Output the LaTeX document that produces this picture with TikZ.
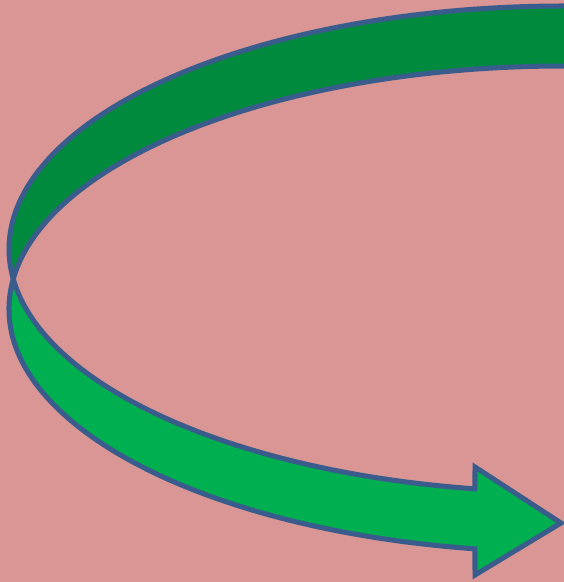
\documentclass[tikz,border=0pt]{standalone}
\definecolor{bgpink}{HTML}{D99694}
\definecolor{darkgr}{HTML}{008A3E}
\definecolor{lightgr}{HTML}{00B050}
\definecolor{edgeblue}{HTML}{3A5C8C}
\tikzset{
  band/.style={draw=edgeblue, line width=5pt, line join=miter, miter limit=10},
}
\begin{document}
\begin{tikzpicture}[x=1pt,y=1pt]
  \useasboundingbox (0,0) rectangle (564,582);
  \fill[bgpink] (0,0) rectangle (564,582);
  \clip (0,0) rectangle (564,582);
  % ellipse centres
  \coordinate (c1) at (564,333);
  \coordinate (c2) at (564,273);
  % top (back) band
  \path[band, fill=darkgr]
    ([shift={(80:555pt and 243pt)}]c1)
      arc[start angle=80, end angle=187.09, x radius=555pt, y radius=243pt]
    -- ([shift={(172.91:555pt and 243pt)}]c2)
      arc[start angle=172.91, end angle=80, x radius=555pt, y radius=243pt]
    -- cycle;
  % bottom (front) band with arrow head
  \coordinate (headtop) at (475,115);
  \coordinate (tip) at (561,59);
  \coordinate (headbot) at (475,7);
  \path[band, fill=lightgr]
    ([shift={(187.09:555pt and 243pt)}]c1)
      arc[start angle=187.09, end angle=260.77, x radius=555pt, y radius=243pt]
    -- (headtop) -- (tip) -- (headbot)
    -- ([shift={(260.77:555pt and 243pt)}]c2)
      arc[start angle=260.77, end angle=172.91, x radius=555pt, y radius=243pt]
    -- cycle;
\end{tikzpicture}
\end{document}
